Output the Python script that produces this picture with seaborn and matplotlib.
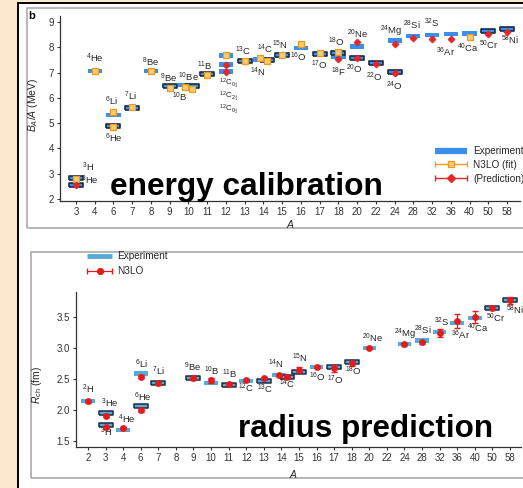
import numpy as np
import pandas as pd
import matplotlib
matplotlib.use("Agg")
import matplotlib.pyplot as plt
from matplotlib.patches import Rectangle
from matplotlib.lines import Line2D
from matplotlib.container import ErrorbarContainer
from matplotlib.legend_handler import HandlerErrorbar
import seaborn as sns

# ---------------- binding energy per nucleon (upper panel) ----------------
be_axis_A = [3, 4, 6, 7, 8, 9, 10, 11, 12, 13, 14, 15, 16, 17, 18, 20, 22, 24, 28, 32, 36, 40, 50, 58]
be_name = ["$^{3}$H", "$^{3}$He", "$^{4}$He", "$^{6}$Li", "$^{6}$He", "$^{7}$Li", "$^{8}$Be",
           "$^{9}$Be", "$^{10}$Be", "$^{10}$B", "$^{11}$B",
           "$^{12}$C$_{0^{+}_{1}}$", "$^{12}$C$_{2^{+}_{1}}$", "$^{12}$C$_{0^{+}_{2}}$",
           "$^{13}$C", "$^{14}$C", "$^{14}$N", "$^{15}$N", "$^{16}$O", "$^{17}$O", "$^{18}$O",
           "$^{18}$F", "$^{20}$Ne", "$^{20}$O", "$^{22}$O", "$^{24}$O", "$^{24}$Mg", "$^{28}$Si",
           "$^{32}$S", "$^{36}$Ar", "$^{40}$Ca", "$^{50}$Cr", "$^{58}$Ni"]
be_A = [3, 3, 4, 6, 6, 7, 8, 9, 10, 10, 11, 12, 12, 12, 13, 14, 14, 15, 16, 17, 18,
        18, 20, 20, 22, 24, 24, 28, 32, 36, 40, 50, 58]
be_exp = [2.83, 2.57, 7.07, 5.33, 4.88, 5.61, 7.06, 6.46, 6.50, 6.48, 6.93, 7.68, 7.31, 7.04,
          7.47, 7.52, 7.48, 7.70, 7.98, 7.75, 7.77, 7.63, 8.03, 7.57, 7.36, 7.02, 8.26, 8.45,
          8.49, 8.52, 8.55, 8.66, 8.73]
be_n3lo = [2.80, 2.57, 7.06, 5.45, 4.85, 5.64, 7.06, 6.40, 6.44, 6.35, 6.90, 7.70, 7.31, 7.04,
           7.47, 7.58, 7.46, 7.71, 8.12, 7.76, 7.81, 7.53, 8.21, 7.58, 7.33, 6.97, 8.13, 8.36,
           8.34, 8.32, 8.42, 8.51, 8.62]
be_err = [0.03, 0.04, 0.02, 0.03, 0.03, 0.03, 0.02, 0.03, 0.03, 0.03, 0.03, 0.02, 0.06, 0.06,
          0.03, 0.03, 0.03, 0.03, 0.03, 0.03, 0.03, 0.05, 0.05, 0.04, 0.04, 0.05, 0.05, 0.05,
          0.05, 0.05, 0.03, 0.04, 0.04]
be_kind = ["fit", "pred", "fit", "fit", "fit", "fit", "fit", "fit", "fit", "fit", "fit", "fit",
           "pred", "pred", "fit", "fit", "fit", "fit", "fit", "fit", "fit", "pred", "pred", "pred",
           "pred", "pred", "pred", "pred", "pred", "pred", "fit", "pred", "pred"]
be_boxed = [1, 1, 0, 0, 1, 1, 0, 1, 0, 1, 1, 0, 0, 0, 1, 0, 1, 1, 0, 1, 1, 0, 0, 1, 1, 1,
            0, 0, 0, 0, 0, 1, 1]

# ---------------- charge radii (lower panel) ----------------
r_axis_A = [2, 3, 4, 6, 7, 8, 9, 10, 11, 12, 13, 14, 15, 16, 17, 18, 20, 22, 24, 28, 32, 36, 40, 50, 58]
r_name = ["$^{2}$H", "$^{3}$He", "$^{3}$H", "$^{4}$He", "$^{6}$Li", "$^{6}$He", "$^{7}$Li",
          "$^{9}$Be", "$^{10}$B", "$^{11}$B", "$^{12}$C", "$^{13}$C", "$^{14}$N", "$^{14}$C",
          "$^{15}$N", "$^{16}$O", "$^{17}$O", "$^{18}$O", "$^{20}$Ne", "$^{24}$Mg", "$^{28}$Si",
          "$^{32}$S", "$^{36}$Ar", "$^{40}$Ca", "$^{50}$Cr", "$^{58}$Ni"]
r_A = [2, 3, 3, 4, 6, 6, 7, 9, 10, 11, 12, 13, 14, 14, 15, 16, 17, 18, 20, 24, 28, 32, 36, 40, 50, 58]
r_exp = [2.14, 1.95, 1.76, 1.68, 2.59, 2.07, 2.44, 2.52, 2.43, 2.41, 2.47, 2.46, 2.56, 2.53,
         2.61, 2.69, 2.70, 2.77, 3.00, 3.06, 3.12, 3.26, 3.40, 3.48, 3.65, 3.77]
r_n3lo = [2.14, 1.91, 1.72, 1.71, 2.54, 2.00, 2.43, 2.51, 2.48, 2.42, 2.48, 2.51, 2.56, 2.53,
          2.65, 2.69, 2.67, 2.75, 3.00, 3.06, 3.09, 3.24, 3.44, 3.50, 3.65, 3.77]
r_err = [0.02, 0.02, 0.02, 0.02, 0.03, 0.03, 0.02, 0.02, 0.04, 0.02, 0.02, 0.03, 0.02, 0.02,
         0.04, 0.02, 0.06, 0.04, 0.02, 0.02, 0.03, 0.07, 0.11, 0.09, 0.03, 0.06]
r_boxed = [0, 1, 1, 0, 0, 1, 1, 1, 0, 1, 0, 1, 0, 1, 1, 0, 1, 1, 0, 0, 0, 0, 0, 0, 1, 1]

# ---------------- layout helpers: dodge within a column and label offsets (pixels) ----------------
be_dodge = {8: -0.2, 9: 0.2, 15: -0.2, 16: 0.2}
be_lab_off = [(12, 11), (14, 4), (0, 12), (-2, 13), (0, -12), (-2, 11), (0, 9), (-1, 8), (4, 8),
              (-12, -11.5), (-2, 8), (3, -27.3), (3, -31.2), (3, -37.2), (-2, 9.5), (5, 10), (-9, -12),
              (-2, 10), (-3, -9.5), (0, -12), (-2, 11), (0, -15.5), (1, 12), (-3, -11.5), (-2, -14),
              (0, -14), (-3, 9), (-2, 11), (0, 11.5), (-5, -18.5), (-1.5, -15), (0.5, -14.5), (3, -12)]
r_dodge = {12: -0.15, 13: 0.3}
r_lab_off = [(0, 12), (4, 10), (0, -7), (4, 10.5), (1, 9.5), (2, 8.5), (0, 11.5), (-1, 10.5),
             (1, 11.5), (1, 10.5), (0, -8), (1, -7.5), (-3, 11), (0, -7), (1, 14), (1, -10),
             (1, -13.5), (2, -9.5), (3, 9.5), (1, 9.5), (1, 10.5), (2, 10), (3, -12), (3, -10.5),
             (3, -11), (5, -10)]

BLUE_T = "#3a8fe8"
BLUE_B = "#56acd9"
NAVY = "#1b2b45"
ORANGE_E = "#eb9a22"
ORANGE_F = "#fbcb70"
RED_T = "#e2262b"
RED_B = "#e41a1c"
TXT = "#262626"
BAR = [(-1, -0.32), (1, -0.32), (1, 0.32), (-1, 0.32), (-1, -0.32)]

sns.set_theme(style="ticks")
plt.rcParams["font.family"] = ["Liberation Sans", "DejaVu Sans"]
plt.rcParams["mathtext.fontset"] = "custom"
plt.rcParams["mathtext.rm"] = "Liberation Sans"
plt.rcParams["mathtext.it"] = "Liberation Sans:italic"
plt.rcParams["mathtext.bf"] = "Liberation Sans:bold"
plt.rcParams["mathtext.default"] = "regular"

W, H = 523, 488
fig = plt.figure(figsize=(W / 100, H / 100), dpi=100)
fig.patch.set_facecolor("#fde9cf")


def fx(px):
    return px / W


def fy(py):
    return 1 - py / H


# page and panel frames
fig.patches.append(Rectangle((fx(18), -0.1), 1.0, fy(3.3) + 0.1, transform=fig.transFigure,
                             facecolor="white", edgecolor="black", lw=1.4, zorder=-3))
fig.patches.append(Rectangle((fx(27), fy(228.3)), 1.0, (228.3 - 8.3) / H, transform=fig.transFigure,
                             facecolor="none", edgecolor="#a3a3a3", lw=1.1, zorder=-2))
fig.patches.append(Rectangle((fx(30.7), fy(478.3)), 1.0, (478.3 - 251.7) / H, transform=fig.transFigure,
                             facecolor="none", edgecolor="#a3a3a3", lw=1.1, zorder=-2))


def style_axes(ax):
    sns.despine(ax=ax)
    ax.patch.set_alpha(0)
    for s in ("left", "bottom"):
        ax.spines[s].set_color("#333333")
        ax.spines[s].set_linewidth(0.9)
    ax.tick_params(axis="both", length=2.4, width=0.8, color="#333333", labelsize=7,
                   labelcolor="#333333", pad=2)


# ======================= upper panel =======================
top = pd.DataFrame(dict(name=be_name, A=be_A, exp=be_exp, n3lo=be_n3lo, err=be_err,
                        kind=be_kind, boxed=be_boxed))
top["x"] = [be_axis_A.index(a) + be_dodge.get(i, 0.0) for i, a in enumerate(be_A)]

ax1 = fig.add_axes([fx(60), fy(200.5), (520 - 60) / W, (200.5 - 16) / H])
style_axes(ax1)
sns.scatterplot(data=top[top.boxed == 0], x="x", y="exp", marker=BAR, s=105, color=BLUE_T,
                edgecolor="none", linewidth=0, ax=ax1, legend=False, zorder=2)
sns.scatterplot(data=top[top.boxed == 1], x="x", y="exp", marker=BAR, s=110, color=BLUE_T,
                edgecolor=NAVY, linewidth=1.2, ax=ax1, legend=False, zorder=2)

fit = top[top.kind == "fit"]
pred = top[top.kind == "pred"]
ax1.errorbar(fit.x, fit.n3lo, yerr=fit.err, fmt="none", ecolor=ORANGE_E, elinewidth=0.9,
             capsize=1.5, zorder=3)
sns.scatterplot(data=fit, x="x", y="n3lo", marker="s", s=20, color=ORANGE_F,
                edgecolor=ORANGE_E, linewidth=0.9, ax=ax1, legend=False, zorder=4)
ax1.errorbar(pred.x, pred.n3lo, yerr=pred.err, fmt="none", ecolor=RED_T, elinewidth=1.0,
             capsize=1.5, zorder=3)
sns.scatterplot(data=pred, x="x", y="n3lo", marker="D", s=13, color=RED_T,
                edgecolor=RED_T, linewidth=0.5, ax=ax1, legend=False, zorder=4)

for (i, row), off in zip(top.iterrows(), be_lab_off):
    small = "_{" in row["name"]
    ax1.annotate(row["name"], (row.x, row.exp), xytext=off, textcoords="offset pixels",
                 ha="center", va="center", fontsize=5.8 if small else 6.8, color=TXT)

ax1.set_xlim(-0.854, 23.69)
ax1.set_ylim(1.94, 9.237)
ax1.set_xticks(range(len(be_axis_A)))
ax1.set_xticklabels([str(a) for a in be_axis_A])
ax1.set_yticks(range(2, 10))
ax1.set_xlabel("$\\mathit{A}$", fontsize=7.5, color=TXT)
ax1.set_ylabel("$\\mathit{B}_{\\mathit{A}}/\\mathit{A}$ (MeV)", fontsize=7.5, color=TXT)
ax1.xaxis.set_label_coords(0.5, -0.095)
ax1.yaxis.set_label_coords(-0.043, 0.52)

h_exp = Line2D([], [], color=BLUE_T, lw=4.5, solid_capstyle="butt")
h_fit = ax1.errorbar([np.nan], [np.nan], xerr=[1.0], fmt="s", color=ORANGE_E, mfc=ORANGE_F,
                     mec=ORANGE_E, ms=4.2, mew=0.9, elinewidth=1.0, capsize=2.5)
h_pred = ax1.errorbar([np.nan], [np.nan], xerr=[1.0], fmt="D", color=RED_T, mfc=RED_T,
                      mec=RED_T, ms=3.6, elinewidth=1.0, capsize=2.5)
ax1.legend([h_exp, h_fit, h_pred], ["Experiment", "N3LO (fit)", "(Prediction)"],
           handler_map={ErrorbarContainer: HandlerErrorbar(xerr_size=1.6)},
           loc="upper left", bbox_to_anchor=(fx(435), fy(146)), bbox_transform=fig.transFigure,
           frameon=False, fontsize=7.2, handlelength=3.2, handletextpad=0.6, labelspacing=0.38,
           borderpad=0, borderaxespad=0, labelcolor=TXT)

fig.text(fx(28), fy(16), "b", fontsize=8, fontweight="bold", color="black", ha="left", va="center")
fig.text(fx(246.5), fy(195), "energy calibration", fontsize=22.8, fontweight="bold",
         color="black", ha="center", va="baseline", zorder=10)

# ======================= lower panel =======================
bot = pd.DataFrame(dict(name=r_name, A=r_A, exp=r_exp, n3lo=r_n3lo, err=r_err, boxed=r_boxed))
bot["x"] = [r_axis_A.index(a) + r_dodge.get(i, 0.0) for i, a in enumerate(r_A)]

ax2 = fig.add_axes([fx(76), fy(447), (521 - 76) / W, (447 - 292) / H])
style_axes(ax2)
sns.scatterplot(data=bot[bot.boxed == 0], x="x", y="exp", marker=BAR, s=95, color=BLUE_B,
                edgecolor="none", linewidth=0, ax=ax2, legend=False, zorder=2)
sns.scatterplot(data=bot[bot.boxed == 1], x="x", y="exp", marker=BAR, s=100, color=BLUE_B,
                edgecolor=NAVY, linewidth=1.1, ax=ax2, legend=False, zorder=2)
ax2.errorbar(bot.x, bot.n3lo, yerr=bot.err, fmt="none", ecolor=RED_B, elinewidth=0.9,
             capsize=2.5, zorder=3)
sns.scatterplot(data=bot, x="x", y="n3lo", marker="o", s=20, color=RED_B, edgecolor=RED_B,
                linewidth=0.4, ax=ax2, legend=False, zorder=4)

for (i, row), off in zip(bot.iterrows(), r_lab_off):
    ax2.annotate(row["name"], (row.x, row.exp), xytext=off, textcoords="offset pixels",
                 ha="center", va="center", fontsize=6.8, color=TXT)

ax2.set_xlim(-0.683, 24.63)
ax2.set_ylim(1.403, 3.903)
ax2.set_xticks(range(len(r_axis_A)))
ax2.set_xticklabels([str(a) for a in r_axis_A])
ax2.set_yticks([1.5, 2.0, 2.5, 3.0, 3.5])
ax2.set_yticklabels(["1.5", "2.0", "2.5", "3.0", "3.5"])
ax2.set_xlabel("$\\mathit{A}$", fontsize=7.5, color=TXT)
ax2.set_ylabel("$\\mathit{R}_{\\mathrm{ch}}$ (fm)", fontsize=7.5, color=TXT)
ax2.xaxis.set_label_coords(0.488, -0.135)
ax2.yaxis.set_label_coords(-0.071, 0.40)

h_exp2 = Line2D([], [], color=BLUE_B, lw=3.5, solid_capstyle="butt")
h_n3lo = ax2.errorbar([np.nan], [np.nan], xerr=[1.0], fmt="o", color=RED_B, mfc=RED_B,
                      mec=RED_B, ms=4.2, elinewidth=0.9, capsize=2.5)
ax2.legend([h_exp2, h_n3lo], ["Experiment", "N3LO"],
           handler_map={ErrorbarContainer: HandlerErrorbar(xerr_size=1.25)},
           loc="upper left", bbox_to_anchor=(fx(87), fy(251)), bbox_transform=fig.transFigure,
           frameon=False, fontsize=7.2, handlelength=2.5, handletextpad=0.55, labelspacing=0.55,
           borderpad=0, borderaxespad=0, labelcolor=TXT)

fig.text(fx(365.5), fy(437), "radius prediction", fontsize=22.6, fontweight="bold",
         color="black", ha="center", va="baseline", zorder=10)

fig.savefig("out.png", dpi=100, facecolor=fig.get_facecolor())
